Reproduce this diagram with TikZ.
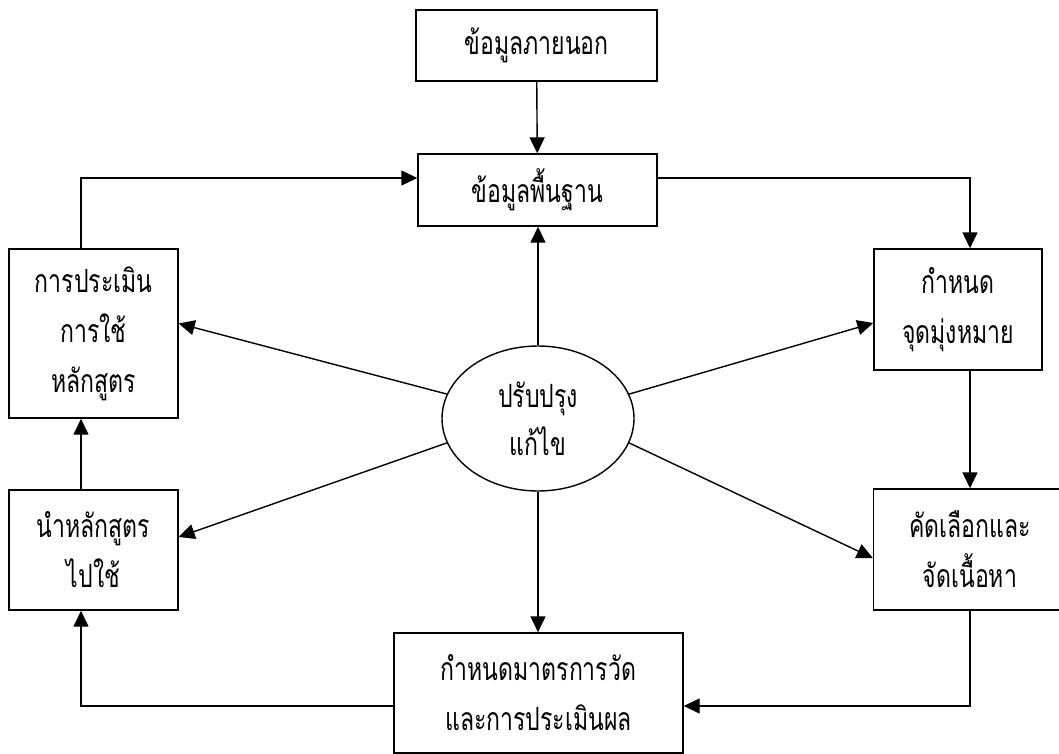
\documentclass[tikz,border=0pt]{standalone}
\usepackage{fontspec}
\newfontfamily\thaifont[Script=Thai,FakeStretch=0.72]{Loma}
\usetikzlibrary{arrows.meta,shapes.geometric}

\begin{document}
\begin{tikzpicture}[x=1pt,y=-1pt,
    box/.style={draw,line width=1.4pt,inner sep=0pt,align=center,
      font=\thaifont\fontsize{32}{50}\selectfont},
    arr/.style={-{Triangle[length=16pt,width=15pt]},line width=1.4pt}]
  \useasboundingbox (0,0) rectangle (1059,754);

  \node[box,minimum width=241pt,minimum height=71pt] (ext) at (536.5,45.5) {ข้อมูลภายนอก};
  \node[box,minimum width=239pt,minimum height=72pt] (base) at (537.5,190) {ข้อมูลพื้นฐาน};
  \node[box,minimum width=169pt,minimum height=169pt] (eval) at (93.5,333.5) {การประเมิน\\การใช้\\หลักสูตร};
  \node[box,minimum width=168pt,minimum height=121pt] (goal) at (958,309.5) {กำหนด\\จุดมุ่งหมาย};
  \node[box,ellipse,minimum width=192pt,minimum height=145pt] (fix) at (538,418.5) {ปรับปรุง\\[-2pt]แก้ไข};
  \node[box,minimum width=169pt,minimum height=120pt] (impl) at (93.5,550) {นำหลักสูตร\\ไปใช้};
  \node[box,minimum width=193pt,minimum height=121pt] (select) at (970,549.5) {คัดเลือกและ\\จัดเนื้อหา};
  \node[box,minimum width=289pt,minimum height=120pt] (meas) at (538.5,693) {กำหนดมาตรการวัด\\และการประเมินผล};

  \draw[arr] (ext) -- (base);
  \draw[arr] ([xshift=-12.5pt]eval.north) |- ([yshift=12pt]base.west);
  \draw[arr] ([yshift=12pt]base.east) -| ([xshift=12pt]goal.north);
  \draw[arr] ([xshift=12pt]goal.south) -- (select.north);
  \draw[arr] (select.south) |- ([yshift=-13pt]meas.east);
  \draw[arr] ([yshift=-13pt]meas.west) -| ([xshift=-12.5pt]impl.south);
  \draw[arr] ([xshift=-12.5pt]impl.north) -- ([xshift=-12.5pt]eval.south);

  \draw[arr] (fix.north) -- (fix.north |- base.south);
  \draw[arr] (fix.south) -- (fix.south |- meas.north);
  \draw[arr] (fix.165) -- ([yshift=10pt]eval.east);
  \draw[arr] (fix.195) -- ([yshift=13pt]impl.east);
  \draw[arr] (fix.15) -- ([yshift=-13.5pt]goal.west);
  \draw[arr] (fix.345) -- ([yshift=-8.5pt]select.west);
\end{tikzpicture}
\end{document}
